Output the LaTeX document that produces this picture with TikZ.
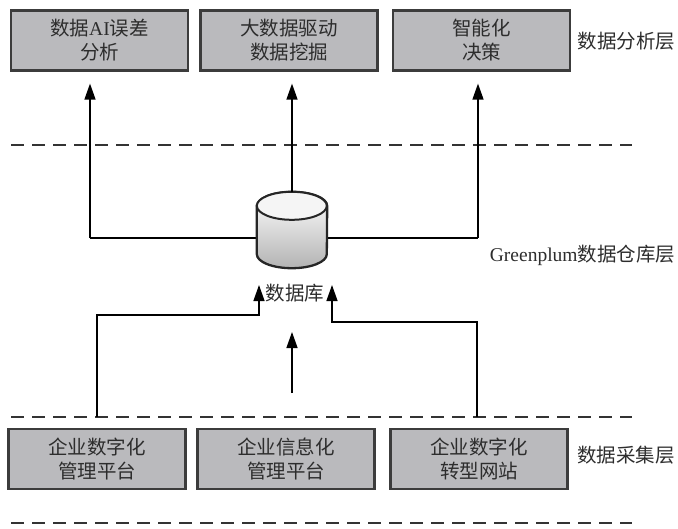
\documentclass[tikz,border=0pt]{standalone}
\usepackage{fontspec}
\newfontfamily\cjk{Noto Sans CJK SC}
\newfontfamily\latinserif{Liberation Serif}
\usetikzlibrary{arrows.meta,positioning,calc}
\definecolor{boxfill}{RGB}{186,186,189}
\definecolor{boxline}{RGB}{60,60,60}
\definecolor{txt}{RGB}{45,45,45}
\begin{document}
\begin{tikzpicture}[x=1pt,y=-1pt,
  layerbox/.style={draw=boxline,line width=2.2pt,fill=boxfill,minimum width=177pt,minimum height=60pt,
    inner sep=0pt,align=center,text=txt,font=\fontsize{19.5}{24}\selectfont\cjk},
  layerlabel/.style={text=txt,font=\fontsize{19.5}{24}\selectfont\cjk,inner sep=0pt},
  conn/.style={line width=1.4pt,black},
  arr/.style={conn,-{Triangle[width=11pt,length=16pt]}},
  dashline/.style={line width=2pt,draw=black!80,dash pattern=on 13pt off 8pt}]
\useasboundingbox (0,0) rectangle (678,528);
% top boxes
\node[layerbox] (a1) at (99.5,40.5) {{\cjk 数据}{\latinserif AI}{\cjk 误差}\\分析};
\node[layerbox] (a2) at (289,40.5) {大数据驱动\\数据挖掘};
\node[layerbox] (a3) at (481.5,40.5) {智能化\\决策};
\node[layerlabel] (la) at (626.5,41) {数据分析层};
% dashed lines
\draw[dashline] (11,145) -- (632,145);
\draw[dashline] (11,417) -- (632,417);
\draw[dashline] (11,523) -- (632,523);
% horizontal bus behind the database
\coordinate (jl) at (90,238);
\coordinate (jr) at (478,238);
\draw[conn] (jl) -- (jr);
% database cylinder
\node[minimum width=70pt,minimum height=76pt,inner sep=0pt] (db) at (292,230) {};
\draw[line width=2.3pt,draw=black!85,top color=white,bottom color=black!30]
  ($(db.north west)+(0,14)$) -- ($(db.south west)+(0,-14)$)
  arc[start angle=180,end angle=360,x radius=35pt,y radius=14pt]
  -- ($(db.north east)+(0,14)$)
  arc[start angle=0,end angle=180,x radius=35pt,y radius=14pt] -- cycle;
\draw[line width=2pt,draw=black!85,fill=black!4]
  ($(db.north west)+(0,14)$) arc[start angle=180,end angle=540,x radius=35pt,y radius=14pt];
% arrows upward to analysis layer
\draw[arr,shorten >=12pt] (jl) -- (jl |- a1.south);
\draw[arr,shorten >=12pt] (db.north) -- (db.north |- a2.south);
\draw[arr,shorten >=12pt] (jr) -- (jr |- a3.south);
% warehouse label
\node[inner sep=0pt,text=txt,font=\fontsize{19.5}{24}\selectfont] (lb) at (582.5,255) {\latinserif Greenplum{\cjk 数据仓库层}};
% database label
\node[layerlabel] (dbl) at (295,293) {数据库};
\coordinate (s1) at (97,417);
\coordinate (s3) at (477,417);
\coordinate (t1) at (259,285);
\coordinate (t3) at (332,285);
\coordinate (m1) at (292,393);
\coordinate (m2) at (292,332);
\draw[arr] (s1) -- (s1 |- 0,315) -- (t1 |- 0,315) -- (t1);
\draw[arr] (s3) -- (s3 |- 0,322) -- (t3 |- 0,322) -- (t3);
\draw[arr] (m1) -- (m2);
% bottom boxes
\node[layerbox] (b1) at (97,459) {企业数字化\\管理平台};
\node[layerbox] (b2) at (286,459) {企业信息化\\管理平台};
\node[layerbox] (b3) at (479,459) {企业数字化\\转型网站};
\node[layerlabel] (lc) at (626,455) {数据采集层};
\end{tikzpicture}
\end{document}
